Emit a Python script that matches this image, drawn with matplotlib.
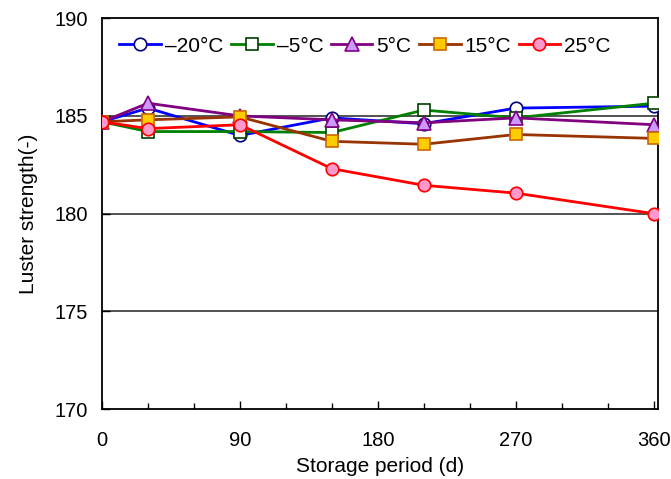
import matplotlib.pyplot as plt
from matplotlib.ticker import MultipleLocator

plt.rcParams['font.family'] = ['Liberation Sans', 'DejaVu Sans']

# Storage period in days and luster strength for each temperature
days = [0, 30, 90, 150, 210, 270, 360]
t_m20 = [184.7, 185.4, 184.0, 184.9, 184.6, 185.4, 185.5]
t_m5 = [184.7, 184.2, 184.2, 184.15, 185.3, 184.9, 185.65]
t_5 = [184.7, 185.65, 185.0, 184.8, 184.65, 184.9, 184.55]
t_15 = [184.7, 184.8, 184.95, 183.7, 183.55, 184.05, 183.85]
t_25 = [184.7, 184.35, 184.55, 182.3, 181.45, 181.05, 180.0]

labels = ['\u201320°C', '\u20135°C', '5°C', '15°C', '25°C']

fig = plt.figure(figsize=(6.71, 4.79), dpi=100)
ax = fig.add_axes([0.152, 0.146, 0.829, 0.816])

# horizontal guide lines
for yv in [175, 180, 185]:
    ax.axhline(yv, color='#444444', lw=1.3, zorder=1)

ms = 9
ax.plot(days, t_m20, color='#0000ff', lw=2, marker='o', ms=ms, mfc='white',
        mec='#000080', mew=1.2, label=labels[0], zorder=3)
ax.plot(days, t_m5, color='#008000', lw=2, marker='s', ms=ms, mfc='white',
        mec='#004000', mew=1.2, label=labels[1], zorder=3)
ax.plot(days, t_5, color='#800080', lw=2, marker='^', ms=ms + 1, mfc='#cc99ff',
        mec='#800080', mew=1.2, label=labels[2], zorder=3)
ax.plot(days, t_15, color='#993300', lw=2, marker='s', ms=ms, mfc='#ffcc00',
        mec='#cc6600', mew=1.2, label=labels[3], zorder=3)
ax.plot(days, t_25, color='#ff0000', lw=2, marker='o', ms=ms, mfc='#ff99cc',
        mec='#ff0000', mew=1.2, label=labels[4], zorder=3)

ax.set_xlim(0, 363)
ax.set_ylim(170, 190)
ax.xaxis.set_major_locator(MultipleLocator(90))
ax.xaxis.set_minor_locator(MultipleLocator(30))
ax.yaxis.set_major_locator(MultipleLocator(5))
ax.tick_params(axis='both', which='both', direction='in', labelsize=14.5,
               width=1, color='black')
ax.tick_params(axis='x', which='major', length=6, pad=16)
ax.tick_params(axis='x', which='minor', length=4)
ax.tick_params(axis='y', which='major', length=6, pad=10)
for s in ax.spines.values():
    s.set_linewidth(1.3)

ax.set_xlabel('Storage period (d)', fontsize=15, labelpad=5)
ax.set_ylabel('Luster strength(-)', fontsize=15, labelpad=12)

ax.legend(loc='upper left', bbox_to_anchor=(0.005, 0.99), ncol=5, frameon=False,
          fontsize=15, handlelength=2.0, handletextpad=0.2, columnspacing=0.35,
          borderaxespad=0.3)

fig.savefig('out.png', dpi=100)
